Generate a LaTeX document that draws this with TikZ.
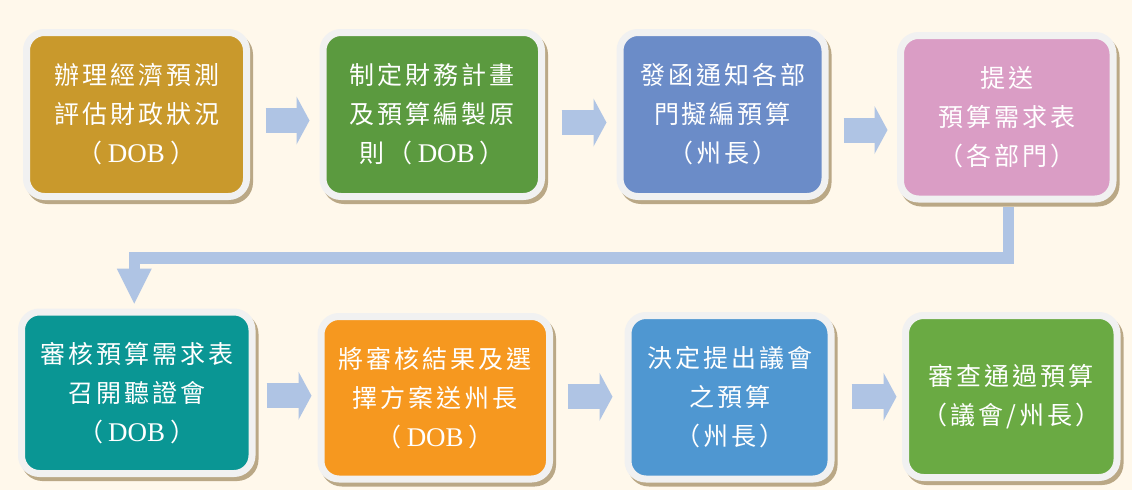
\documentclass[tikz,border=0pt]{standalone}
\usepackage{fontspec}
\setmainfont{Liberation Serif}
\newfontfamily\cjk[LetterSpace=12]{Noto Sans CJK TC}
\newfontfamily\latinserif{Liberation Serif}
\newcommand{\dob}{\hspace{5pt}{\latinserif\fontsize{27}{39}\selectfont DOB}\hspace{5pt}}
\usetikzlibrary{positioning}
\usetikzlibrary{arrows.meta}
\usetikzlibrary{shadows}
\usetikzlibrary{calc}
\definecolor{bgcream}{HTML}{FFF8EB}
\definecolor{ringgray}{HTML}{F1F1F1}
\definecolor{shadowtan}{HTML}{BAA886}
\definecolor{flowblue}{HTML}{AFC4E4}
\definecolor{cgold}{HTML}{C9992C}
\definecolor{cgreen}{HTML}{5B9A3F}
\definecolor{cblue}{HTML}{6B8CC8}
\definecolor{cpink}{HTML}{DA9DC5}
\definecolor{cteal}{HTML}{0A9694}
\definecolor{corange}{HTML}{F6981F}
\definecolor{csky}{HTML}{4F97D1}
\definecolor{clime}{HTML}{6AAA43}
\tikzset{
    boxnode/.style = {rounded corners=18pt, line width=7pt, draw=ringgray, align=center, text=white, font=\cjk\fontsize{25}{39}\selectfont, execute at begin node={\rule{0pt}{30pt}}, drop shadow={shadow xshift=3pt, shadow yshift=-4pt, fill=shadowtan, draw=shadowtan, opacity=1}},
    boxgold/.style = {boxnode, fill=cgold},
    boxgreen/.style = {boxnode, fill=cgreen},
    boxblue/.style = {boxnode, fill=cblue},
    boxpink/.style = {boxnode, fill=cpink},
    boxteal/.style = {boxnode, fill=cteal},
    boxorange/.style = {boxnode, fill=corange},
    boxsky/.style = {boxnode, fill=csky},
    boxlime/.style = {boxnode, fill=clime},
    edgeflow/.style = {line width=25pt, flowblue, -{Triangle[length=13pt 0 0, width=48pt 0, line width=0pt]}},
    edgeturn/.style = {line width=11.5pt, flowblue, -{Triangle[length=35pt 0 0, width=35pt 0, line width=0pt]}} % row change
}
\begin{document}
\begin{tikzpicture}[x=1pt, y=-1pt]
  \useasboundingbox (0,0) rectangle (1132,490);
  \fill[bgcream] (0,0) rectangle (1132,490);
  % first row
  \node[boxgold, minimum width=220pt, minimum height=164pt] (b1) at (136.5,114.5) {辦理經濟預測\\評估財政狀況\\（\dob）};
  \node[boxgreen, minimum width=218.5pt, minimum height=164pt] (b2) at (432.25,114.5) {制定財務計畫\\及預算編製原\\則（\dob）};
  \node[boxblue, minimum width=205pt, minimum height=164pt] (b3) at (722.5,114.5) {發函通知各部\\門擬編預算\\（州長）};
  \node[boxpink, minimum width=212.5pt, minimum height=163.5pt] (b4) at (1006.75,117.25) {提送\\預算需求表\\（各部門）};
  % second row
  \node[boxteal, minimum width=230.5pt, minimum height=161.5pt] (b5) at (136.75,392.75) {審核預算需求表\\召開聽證會\\（\dob）};
  \node[boxorange, minimum width=228.5pt, minimum height=162.5pt] (b6) at (435.25,397.75) {將審核結果及選\\擇方案送州長\\（\dob）};
  \node[boxsky, minimum width=203pt, minimum height=163.5pt] (b7) at (729.5,397.25) {決定提出議會\\之預算\\（州長）};
  \node[boxlime, minimum width=211.5pt, minimum height=162pt] (b8) at (1011.25,396.5) {審查通過預算\\（議會/州長）};

  \draw[edgeflow] ($(b1.east)+(15.5,6)$) -- ($(b2.west |- b1.east)+(-10,6)$);
  \draw[edgeflow] ($(b2.east)+(16.5,8)$) -- ($(b3.west |- b2.east)+(-10,8)$);
  \draw[edgeflow] ($(b3.east)+(15,15.5)$) -- ($(b4.west |- b3.east)+(-9.5,15.5)$);
  \coordinate (bend) at (570,258);
  \draw[edgeturn] ($(b4.south)+(1.5,4)$) |- (bend) -| ($(b5.north)+(-2.5,-5)$);
  \draw[edgeflow] ($(b5.east)+(11,3)$) -- ($(b6.west |- b5.east)+(-6,3)$);
  \draw[edgeflow] ($(b6.east)+(14.5,-1)$) -- ($(b7.west |- b6.east)+(-12,-1)$);
  \draw[edgeflow] ($(b7.east)+(17,-0.5)$) -- ($(b8.west |- b7.east)+(-5.5,-0.5)$);
\end{tikzpicture}
\end{document}
